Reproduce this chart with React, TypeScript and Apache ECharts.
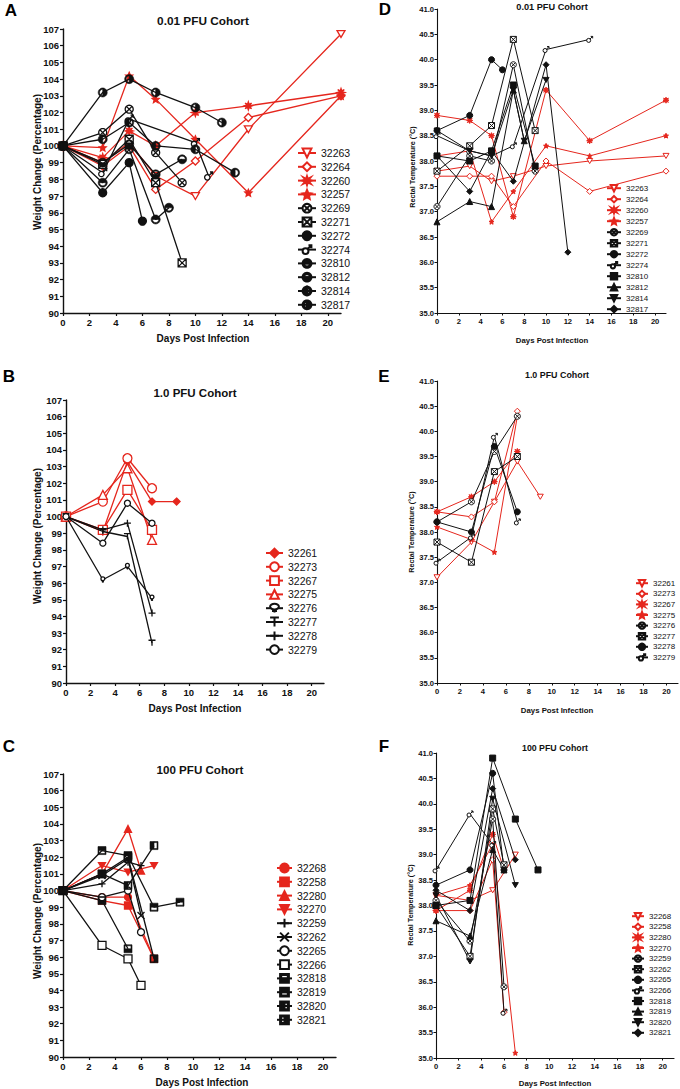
import React, { useEffect, useRef } from 'react';
import * as echarts from 'echarts';

const RED = '#e5261d';
const BLACK = '#111111';
const FONT = '"Liberation Sans", Arial, Helvetica, sans-serif';

// ---------------- DATA ----------------
// Panel A: weight change, 0.01 PFU cohort
const weightLowIds = ['32263', '32264', '32260', '32257', '32269', '32271', '32272', '32274', '32810', '32812', '32814', '32817'];
const weightLowDays = [
  [0, 3, 5, 7, 10, 14, 21],
  [0, 3, 5, 7, 10, 14, 21],
  [0, 3, 5, 7, 10, 14, 21],
  [0, 3, 5, 7, 10, 14, 21],
  [0, 3, 5, 7, 9],
  [0, 3, 5, 7, 9],
  [0, 3, 5, 6],
  [0, 3, 5, 10, 11],
  [0, 3, 5, 7, 8],
  [0, 3, 5, 7, 9],
  [0, 3, 5, 7, 10, 13],
  [0, 3, 5, 7, 10, 12],
];
const weightLowValues = [
  [100, 99.0, 100.2, 98.2, 97.0, 101.0, 106.7],
  [100, 98.8, 100.0, 97.4, 99.1, 101.7, 103.0],
  [100, 99.3, 100.9, 100.0, 102.0, 102.4, 103.2],
  [100, 99.9, 104.2, 102.8, 100.4, 97.2, 103.0],
  [100, 100.8, 102.2, 99.6, 97.8],
  [100, 98.9, 100.4, 97.8, 93.0],
  [100, 97.2, 99.0, 95.5],
  [100, 98.4, 101.6, 100.2, 98.2],
  [100, 97.8, 99.8, 95.6, 96.3],
  [100, 99.0, 100.1, 98.3, 99.2],
  [100, 100.4, 101.4, 100.0, 99.8, 98.4],
  [100, 103.2, 104.0, 103.2, 102.3, 101.4],
];

// Panel D: rectal temperature, 0.01 PFU cohort
const tempLowIds = weightLowIds;
const tempLowDays = [
  [0, 3, 5, 7, 10, 14, 21],
  [0, 3, 5, 7, 10, 14, 21],
  [0, 3, 5, 7, 10, 14, 21],
  [0, 3, 5, 7, 10, 14, 21],
  [0, 3, 5, 7, 9],
  [0, 3, 5, 7, 9],
  [0, 3, 5, 6],
  [0, 3, 5, 7, 10, 14],
  [0, 3, 5, 7, 9],
  [0, 3, 5, 7, 8],
  [0, 3, 5, 7, 8, 10],
  [0, 3, 5, 7, 10, 12],
];
const tempLowValues = [
  [37.8, 37.9, 37.6, 37.7, 37.9, 38.0, 38.1],
  [37.7, 37.7, 37.7, 37.1, 38.0, 37.4, 37.8],
  [38.9, 38.8, 38.5, 36.9, 39.4, 38.4, 39.2],
  [38.1, 38.2, 36.8, 37.4, 38.3, 38.1, 38.5],
  [37.1, 38.1, 38.0, 39.9, 37.8],
  [37.8, 38.3, 38.7, 40.4, 38.6],
  [38.6, 38.9, 40.0, 39.8],
  [38.5, 38.2, 38.1, 38.3, 40.2, 40.4],
  [38.1, 38.0, 38.2, 39.5, 37.9],
  [36.8, 37.2, 37.1, 39.4, 38.4],
  [38.6, 38.2, 38.1, 39.4, 38.4, 39.6],
  [38.1, 37.4, 38.2, 37.6, 39.9, 36.2],
];

// Panel B: weight change, 1.0 PFU cohort
const weightMidIds = ['32261', '32273', '32267', '32275', '32276', '32277', '32278', '32279'];
const weightMidDays = [
  [0, 3, 5, 7, 9],
  [0, 3, 5, 7],
  [0, 3, 5, 7],
  [0, 3, 5, 7],
  [0, 3, 5, 7],
  [0, 3, 5, 7],
  [0, 3, 5, 7],
  [0, 3, 5, 7],
];
const weightMidValues = [
  [100, 99.1, 103.3, 100.9, 100.9],
  [100, 100.9, 103.5, 101.7],
  [100, 99.2, 101.6, 99.2],
  [100, 101.3, 102.9, 98.6],
  [100, 96.2, 97.0, 95.1],
  [100, 99.1, 98.8, 92.4],
  [100, 99.2, 99.6, 94.2],
  [100, 98.4, 100.8, 99.6],
];

// Panel E: rectal temperature, 1.0 PFU cohort
const tempMidIds = weightMidIds;
const tempMidDays = [
  [0, 3, 5, 7, 9],
  [0, 3, 5, 7],
  [0, 3, 5, 7],
  [0, 3, 5, 7],
  [0, 3, 5, 7],
  [0, 3, 5, 7],
  [0, 3, 5, 7],
  [0, 3, 5, 7],
];
const tempMidValues = [
  [37.1, 37.8, 38.6, 39.4, 38.7],
  [38.4, 38.3, 38.6, 40.4],
  [38.4, 38.7, 39.0, 39.6],
  [38.1, 37.85, 37.6, 40.3],
  [38.2, 38.6, 39.6, 40.3],
  [37.8, 37.4, 39.2, 39.5],
  [38.2, 38.0, 39.7, 38.4],
  [37.4, 37.9, 39.9, 38.2],
];

// Panel C: weight change, 100 PFU cohort
const weightHighIds = ['32268', '32258', '32280', '32270', '32259', '32262', '32265', '32266', '32818', '32819', '32820', '32821'];
const weightHighDays = [
  [0, 3, 5, 7],
  [0, 3, 5, 7],
  [0, 3, 5, 6],
  [0, 3, 5, 7],
  [0, 3, 5, 6],
  [0, 3, 5, 6],
  [0, 3, 5, 6],
  [0, 3, 5, 6],
  [0, 3, 5],
  [0, 3, 5, 7, 9],
  [0, 3, 5, 7],
  [0, 3, 5, 7],
];
const weightHighValues = [
  [100, 99.6, 99.6, 95.9],
  [100, 99.4, 99.1, 95.9],
  [100, 101.0, 103.7, 101.2],
  [100, 101.5, 101.1, 101.5],
  [100, 100.4, 101.7, 101.5],
  [100, 100.9, 101.9, 98.5],
  [100, 99.6, 100.0, 97.5],
  [100, 96.7, 95.9, 94.3],
  [100, 99.4, 96.5],
  [100, 102.4, 102.1, 99.0, 99.3],
  [100, 101.0, 100.3, 102.7],
  [100, 101.0, 102.0, 95.9],
];

// Panel F: rectal temperature, 100 PFU cohort
const tempHighIds = weightHighIds;
const tempHighDays = [
  [0, 3, 5, 7],
  [0, 3, 5, 6],
  [0, 3, 5, 6],
  [0, 3, 5, 7],
  [0, 3, 5, 6],
  [0, 3, 5, 6],
  [0, 3, 5, 6],
  [0, 3, 5, 6],
  [0, 3, 5, 7, 9],
  [0, 3, 5, 6],
  [0, 3, 5, 7],
  [0, 3, 5, 7],
];
const tempHighValues = [
  [38.2, 38.1, 38.3, 39.0],
  [37.9, 37.9, 38.9, 35.9],
  [37.9, 38.3, 39.4, 38.7],
  [38.2, 38.4, 39.2, 35.1],
  [38.1, 37.3, 39.7, 36.4],
  [38.0, 37.0, 39.9, 38.8],
  [38.4, 38.7, 40.6, 38.7],
  [38.7, 39.8, 39.2, 35.9],
  [38.0, 38.1, 40.9, 39.7, 38.7],
  [37.7, 37.4, 39.1, 38.7],
  [38.2, 36.9, 40.1, 38.4],
  [38.3, 37.9, 40.3, 38.9],
];

const weightTicks = { min: 90, max: 107, interval: 1 };
const tempTicks = { min: 35, max: 41, interval: 0.5 };
const dayTicks = { min: 0, max: 21, interval: 2 };

// ---------------- STYLE ----------------
// polygon arc helper (screen coords, angle 0 = right, positive = clockwise on screen)
function arcPts(cx: number, cy: number, r: number, a0: number, a1: number, n: number) {
  const pts: string[] = [];
  for (let k = 0; k <= n; k++) {
    const a = ((a0 + ((a1 - a0) * k) / n) * Math.PI) / 180;
    pts.push((cx + r * Math.cos(a)).toFixed(2) + ',' + (cy + r * Math.sin(a)).toFixed(2));
  }
  return pts;
}
function poly(pts: string[]) {
  return 'M' + pts.join('L') + 'Z';
}
// keyhole: outer circle (clockwise) with a half-disc hole (counter-clockwise) joined by a slit;
// the empty half is the one that contains angle s + 90.
function halfCircle(s: number) {
  const outer = arcPts(10, 10, 10, s, s + 360, 28);
  const inner = arcPts(10, 10, 7, s + 180, s, 10);
  const start = arcPts(10, 10, 7, s, s, 1)[0];
  return 'path://M' + [...outer, start, ...inner, outer[0]].join('L') + 'Z';
}
const CIRC = poly(arcPts(10, 10, 10, 180, 540, 24).slice(0, 24));
const SQ = 'M0,0L20,0L20,20L0,20Z';

const SYM: Record<string, string> = {
  circle: 'circle',
  hcircle: 'circle',
  rect: 'rect',
  hrect: 'rect',
  tri: 'triangle',
  htri: 'triangle',
  diamond: 'diamond',
  hdiamond: 'diamond',
  triDown: 'path://M0,0L20,0L10,17Z',
  htriDown: 'path://M0,0L20,0L10,17Z',
  circX: 'path://' + CIRC + 'M3,3L17,17M17,3L3,17',
  sqX: 'path://' + SQ + 'M0,0L20,20M20,0L0,20',
  male: 'path://M0,14A6,6,0,1,1,12,14A6,6,0,1,1,0,14ZM10,10L18,2M12,2L18,2L18,8',
  female: 'path://M0,7A7,7,0,1,1,14,7A7,7,0,1,1,0,7ZM7,14L7,22M3,18L11,18',
  star: 'path://M10,0L12.9,6.9L20,7.6L14.6,12.4L16.2,19.5L10,15.8L3.8,19.5L5.4,12.4L0,7.6L7.1,6.9Z',
  burst: 'path://M10,0L12,6L18,3L14,8L20,10L14,12L18,17L12,14L10,20L8,14L2,17L6,12L0,10L6,8L2,3L8,6Z',
  plus: 'path://M10,0L10,20M0,10L20,10',
  cross: 'path://M0,0L20,20M20,0L0,20',
  tee: 'path://M0,0L20,0M10,0L10,16',
  cTop: halfCircle(0), // bottom half empty
  cBot: halfCircle(180), // top half empty
  cLeft: halfCircle(-90), // right half empty
  cRight: halfCircle(90), // left half empty
  sBot: 'path://M0,10L0,0L20,0L20,20L0,20L0,10L2.5,10L17.5,10L17.5,2.5L2.5,2.5L2.5,10Z',
  sTop: 'path://M20,10L20,20L0,20L0,0L20,0L20,10L17.5,10L2.5,10L2.5,17.5L17.5,17.5L17.5,10Z',
  sLeft: 'path://M10,0L20,0L20,20L0,20L0,0L10,0L10,2.5L10,17.5L17.5,17.5L17.5,2.5L10,2.5Z',
  sRight: 'path://M10,20L0,20L0,0L20,0L20,20L10,20L10,17.5L10,2.5L2.5,2.5L2.5,17.5L10,17.5Z',
};
const HOLLOW = new Set(['hcircle', 'hrect', 'htri', 'hdiamond', 'htriDown', 'circX', 'sqX', 'male', 'female']);
const THIN = new Set(['cTop', 'cBot', 'cLeft', 'cRight', 'sBot', 'sTop', 'sLeft', 'sRight']);

type Panel = {
  key: string;
  ids: string[];
  days: number[][];
  values: number[][];
  reds: number;
  kind: 'weight' | 'temp';
  symbols: string[];
  sizes: number[];
  grid: { left: number; top: number; width: number; height: number };
  legend: { left: number; top: number; itemWidth: number; itemHeight: number; gap: number; font: number };
  big: boolean;
};

const panels: Panel[] = [
  {
    key: 'A', ids: weightLowIds, days: weightLowDays, values: weightLowValues, reds: 4, kind: 'weight',
    symbols: ['htriDown', 'hdiamond', 'burst', 'star', 'circX', 'sqX', 'circle', 'male', 'cTop', 'cBot', 'cLeft', 'cRight'],
    sizes: [8, 8, 8, 7, 8, 8, 8, 8, 9, 9, 9, 9],
    grid: { left: 63, top: 29, width: 278, height: 284 },
    legend: { left: 297, top: 147.5, itemWidth: 18, itemHeight: 11, gap: 2.8, font: 10.5 },
    big: true,
  },
  {
    key: 'D', ids: tempLowIds, days: tempLowDays, values: tempLowValues, reds: 4, kind: 'temp',
    symbols: ['htriDown', 'hdiamond', 'burst', 'star', 'circX', 'sqX', 'circle', 'male', 'rect', 'tri', 'triDown', 'diamond'],
    sizes: [6, 6, 6, 5, 6, 6, 6, 6, 6, 6, 6, 6],
    grid: { left: 437, top: 9, width: 229, height: 304 },
    legend: { left: 606, top: 184, itemWidth: 14, itemHeight: 8, gap: 2.6, font: 8 },
    big: false,
  },
  {
    key: 'B', ids: weightMidIds, days: weightMidDays, values: weightMidValues, reds: 4, kind: 'weight',
    symbols: ['diamond', 'hcircle', 'hrect', 'htri', 'female', 'tee', 'plus', 'hcircle'],
    sizes: [7, 9, 9, 9, 6, 7, 7, 6],
    grid: { left: 66, top: 400, width: 258, height: 283 },
    legend: { left: 265, top: 547.5, itemWidth: 17, itemHeight: 11, gap: 2.8, font: 10.5 },
    big: true,
  },
  {
    key: 'E', ids: tempMidIds, days: tempMidDays, values: tempMidValues, reds: 4, kind: 'temp',
    symbols: ['htriDown', 'hdiamond', 'burst', 'star', 'circX', 'sqX', 'circle', 'male'],
    sizes: [6, 6, 6, 5, 6, 6, 6, 6],
    grid: { left: 437, top: 381, width: 241, height: 302 },
    legend: { left: 635, top: 579, itemWidth: 12, itemHeight: 8, gap: 2.2, font: 8 },
    big: false,
  },
  {
    key: 'C', ids: weightHighIds, days: weightHighDays, values: weightHighValues, reds: 4, kind: 'weight',
    symbols: ['circle', 'rect', 'tri', 'triDown', 'plus', 'cross', 'hcircle', 'hrect', 'sBot', 'sTop', 'sLeft', 'sRight'],
    sizes: [7, 7, 7, 7, 7, 7, 7, 8, 8, 8, 8, 8],
    grid: { left: 63, top: 774, width: 273, height: 283 },
    legend: { left: 276, top: 862.5, itemWidth: 15, itemHeight: 11, gap: 2.8, font: 10.5 },
    big: true,
  },
  {
    key: 'F', ids: tempHighIds, days: tempHighDays, values: tempHighValues, reds: 4, kind: 'temp',
    symbols: ['htriDown', 'hdiamond', 'burst', 'star', 'circX', 'sqX', 'circle', 'male', 'rect', 'tri', 'triDown', 'diamond'],
    sizes: [6, 6, 6, 5, 6, 6, 6, 6, 6, 6, 6, 6],
    grid: { left: 436, top: 753, width: 238, height: 305 },
    legend: { left: 631, top: 912, itemWidth: 12, itemHeight: 8, gap: 2.2, font: 8 },
    big: false,
  },
];

const titles = [
  { text: '0.01 PFU Cohort', x: 203, y: 21, size: 11.8 },
  { text: '0.01 PFU Cohort', x: 552, y: 7, size: 9.2 },
  { text: '1.0 PFU Cohort', x: 195, y: 393, size: 11.5 },
  { text: '1.0 PFU Cohort', x: 557, y: 375, size: 8.9 },
  { text: '100 PFU Cohort', x: 200, y: 769, size: 11.6 },
  { text: '100 PFU Cohort', x: 555, y: 748, size: 8.8 },
];
const xTitles = [
  { x: 203, y: 338, size: 10 },
  { x: 552, y: 340, size: 7.8 },
  { x: 195, y: 708, size: 10 },
  { x: 557, y: 710, size: 7.8 },
  { x: 202, y: 1082, size: 10 },
  { x: 555, y: 1083, size: 7.8 },
];
const yTitles = [
  { text: 'Weight Change (Percentage)', x: 37, y: 162, size: 10 },
  { text: 'Rectal Temperature (°C)', x: 412, y: 167, size: 7.2 },
  { text: 'Weight Change (Percentage)', x: 37, y: 536, size: 10 },
  { text: 'Rectal Temperature (°C)', x: 411, y: 532, size: 7.2 },
  { text: 'Weight Change (Percentage)', x: 37, y: 911, size: 10 },
  { text: 'Rectal Temperature (°C)', x: 410, y: 905, size: 7.2 },
];
const letters = [
  { text: 'A', x: 11, y: 10 },
  { text: 'D', x: 385, y: 9 },
  { text: 'B', x: 9, y: 376 },
  { text: 'E', x: 384, y: 376 },
  { text: 'C', x: 9, y: 746 },
  { text: 'F', x: 384, y: 746 },
];

function buildOption() {
  const grid: any[] = [];
  const xAxis: any[] = [];
  const yAxis: any[] = [];
  const series: any[] = [];
  const legend: any[] = [];

  panels.forEach((p, idx) => {
    grid.push({ ...p.grid });
    const labelSize = p.big ? 9.5 : 7.6;
    const axisLine = { show: true, onZero: false, lineStyle: { color: BLACK, width: p.big ? 1.4 : 1.1 } };
    const axisTick = { show: true, inside: false, length: p.big ? 3 : 2.5, lineStyle: { color: BLACK, width: p.big ? 1.2 : 1 } };
    xAxis.push({
      type: 'value', gridIndex: idx, ...dayTicks,
      axisLine, axisTick, splitLine: { show: false },
      axisLabel: {
        fontSize: labelSize, fontWeight: 'bold', color: BLACK, fontFamily: FONT, margin: 4,
        showMaxLabel: false,
        formatter: (v: number) => (v > 20 ? '' : String(v)),
      },
    });
    const ticks = p.kind === 'weight' ? weightTicks : tempTicks;
    yAxis.push({
      type: 'value', gridIndex: idx, ...ticks,
      axisLine, axisTick, splitLine: { show: false },
      axisLabel: {
        fontSize: labelSize, fontWeight: 'bold', color: BLACK, fontFamily: FONT, margin: p.big ? 4 : 3,
        formatter: (v: number) => (p.kind === 'weight' ? String(v) : v.toFixed(1)),
      },
    });
    p.ids.forEach((id, i) => {
      const color = i < p.reds ? RED : BLACK;
      const symKey = p.symbols[i];
      const hollow = HOLLOW.has(symKey);
      const bw = THIN.has(symKey) ? 0.6 : p.big ? 1.3 : 1;
      series.push({
        type: 'line',
        name: p.key + '|' + id,
        xAxisIndex: idx,
        yAxisIndex: idx,
        data: p.days[i].map((d, j) => [d, p.values[i][j]]),
        symbol: SYM[symKey],
        symbolSize: p.sizes[i],
        symbolKeepAspect: true,
        showAllSymbol: true,
        clip: false,
        silent: true,
        lineStyle: { color, width: p.big ? 1.3 : 1 },
        itemStyle: { color: hollow ? '#ffffff' : color, borderColor: color, borderWidth: bw },
        emphasis: { disabled: true },
        z: i < p.reds ? 2 : 3,
      });
    });
    legend.push({
      data: p.ids.map((id) => p.key + '|' + id),
      orient: 'vertical',
      left: p.legend.left,
      top: p.legend.top,
      padding: 0,
      itemWidth: p.legend.itemWidth,
      itemHeight: p.legend.itemHeight,
      itemGap: p.legend.gap,
      selectedMode: false,
      formatter: (n: string) => n.split('|')[1],
      textStyle: { fontSize: p.legend.font, color: BLACK, fontFamily: FONT, lineHeight: p.legend.itemHeight },
    });
  });

  const graphic: any[] = [];
  letters.forEach((l) => {
    graphic.push({
      type: 'text', x: l.x, y: l.y, silent: true,
      style: { text: l.text, fontSize: 17, fontWeight: 'bold', fontFamily: FONT, fill: '#000', align: 'center', verticalAlign: 'middle' },
    });
  });
  titles.forEach((t) => {
    graphic.push({
      type: 'text', x: t.x, y: t.y, silent: true,
      style: { text: t.text, fontSize: t.size, fontWeight: 'bold', fontFamily: FONT, fill: BLACK, align: 'center', verticalAlign: 'middle' },
    });
  });
  xTitles.forEach((t) => {
    graphic.push({
      type: 'text', x: t.x, y: t.y, silent: true,
      style: { text: 'Days Post Infection', fontSize: t.size, fontWeight: 'bold', fontFamily: FONT, fill: BLACK, align: 'center', verticalAlign: 'middle' },
    });
  });
  yTitles.forEach((t) => {
    graphic.push({
      type: 'text', x: t.x, y: t.y, rotation: Math.PI / 2, silent: true,
      style: { text: t.text, fontSize: t.size, fontWeight: 'bold', fontFamily: FONT, fill: BLACK, align: 'center', verticalAlign: 'middle' },
    });
  });

  return {
    animation: false,
    backgroundColor: '#ffffff',
    textStyle: { fontFamily: FONT },
    grid, xAxis, yAxis, series, legend, graphic,
  };
}

export default function App() {
  const ref = useRef<HTMLDivElement>(null);
  useEffect(() => {
    if (!ref.current) return;
    const chart = echarts.init(ref.current, undefined, { renderer: 'svg' });
    chart.setOption(buildOption() as any);
    return () => chart.dispose();
  }, []);
  return (
    <div
      ref={ref}
      style={{ position: 'absolute', left: 0, top: 0, width: 680, height: 1089, background: '#fff' }}
    />
  );
}
